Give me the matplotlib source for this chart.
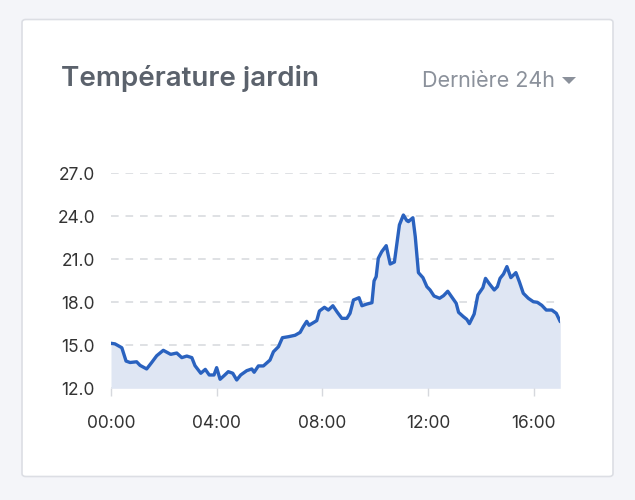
import matplotlib
matplotlib.use("Agg")
import matplotlib.pyplot as plt
from matplotlib.patches import FancyBboxPatch, Polygon
from matplotlib.ticker import FixedLocator, FuncFormatter

plt.rcParams['font.family'] = ['Inter', 'DejaVu Sans']

# Data: hours since 00:00 and temperature (°C)
hours = [0.00, 0.15, 0.41, 0.57, 0.72, 0.97, 1.10, 1.35, 1.54, 1.73, 1.98, 2.26, 2.49,
         2.68, 2.87, 3.06, 3.18, 3.40, 3.57, 3.72, 3.90, 4.00, 4.13, 4.28, 4.44, 4.61,
         4.76, 4.91, 5.14, 5.33, 5.42, 5.58, 5.77, 6.02, 6.15, 6.34, 6.49, 6.72, 6.97,
         7.16, 7.28, 7.41, 7.50, 7.79, 7.89, 8.08, 8.23, 8.40, 8.57, 8.74, 8.93, 9.05,
         9.18, 9.39, 9.50, 9.69, 9.88, 9.96, 10.04, 10.12, 10.25, 10.42, 10.57, 10.73,
         10.92, 11.07, 11.20, 11.26, 11.43, 11.52, 11.64, 11.81, 11.96, 12.08, 12.23,
         12.44, 12.59, 12.75, 12.91, 13.07, 13.16, 13.34, 13.47, 13.57, 13.75, 13.89,
         14.08, 14.18, 14.33, 14.51, 14.63, 14.73, 14.86, 14.99, 15.14, 15.33, 15.46,
         15.61, 15.80, 15.99, 16.14, 16.31, 16.48, 16.69, 16.86, 17.01]
temps = [15.14, 15.10, 14.83, 13.90, 13.80, 13.85, 13.60, 13.35, 13.80, 14.27, 14.65, 14.37,
         14.46, 14.14, 14.25, 14.14, 13.58, 13.05, 13.32, 12.93, 12.93, 13.44, 12.63, 12.88,
         13.16, 13.05, 12.58, 12.93, 13.23, 13.35, 13.12, 13.56, 13.56, 13.97, 14.55, 14.90,
         15.53, 15.60, 15.70, 15.90, 16.30, 16.67, 16.40, 16.72, 17.39, 17.65, 17.46, 17.76,
         17.30, 16.88, 16.88, 17.23, 18.16, 18.32, 17.76, 17.88, 17.97, 19.49, 19.79, 21.07,
         21.53, 21.95, 20.67, 20.81, 23.40, 24.09, 23.70, 23.63, 23.90, 22.58, 20.07, 19.72,
         19.09, 18.86, 18.44, 18.28, 18.46, 18.77, 18.35, 17.93, 17.30, 17.00, 16.81, 16.51,
         17.18, 18.51, 19.02, 19.67, 19.28, 18.86, 19.09, 19.67, 19.97, 20.49, 19.72, 20.07,
         19.44, 18.63, 18.28, 18.04, 18.00, 17.79, 17.46, 17.46, 17.23, 16.65]

y_ticks = [12.0, 15.0, 18.0, 21.0, 24.0, 27.0]
x_ticks = [0, 4, 8, 12, 16]
x_labels = ["00:00", "04:00", "08:00", "12:00", "16:00"]
title = "Température jardin"
period = "Dernière 24h"

W, H = 635, 500
fig = plt.figure(figsize=(W / 100, H / 100), dpi=100)
fig.patch.set_facecolor('#f4f5f9')

# Card
card = FancyBboxPatch((22 / W, 1 - 476.5 / H), (613 - 22) / W, (476.5 - 19.5) / H,
                      boxstyle="round,pad=0,rounding_size=0.006",
                      transform=fig.transFigure, facecolor='white',
                      edgecolor='#dcdee4', linewidth=1.2, zorder=-10)
fig.patches.append(card)

fig.text(61 / W, 1 - 79 / H, title, fontsize=20, fontweight='semibold',
         color='#5b626c', va='center', ha='left')
fig.text(555 / W, 1 - 81 / H, period, fontsize=15.5, color='#8b919b',
         va='center', ha='right')
# dropdown caret
caret = Polygon([(562 / W, 1 - 77 / H), (576 / W, 1 - 77 / H), (569 / W, 1 - 84 / H)],
                closed=True, transform=fig.transFigure, facecolor='#8b919b',
                edgecolor='none', zorder=5)
fig.patches.append(caret)

left, right = 111 / W, 560 / W
bottom, top = 1 - 388.3 / H, 1 - 173.3 / H
ax = fig.add_axes([left, bottom, right - left, top - bottom])
ax.set_facecolor('none')

ax.fill_between(hours, temps, 12.0, color='#dfe6f3', linewidth=0, zorder=1)
ax.plot(hours, temps, color='#2a62bf', linewidth=2.4, solid_joinstyle='round',
        solid_capstyle='round', zorder=3)

ax.set_xlim(0, 17)
ax.set_ylim(12, 27)
ax.yaxis.set_major_locator(FixedLocator(y_ticks))
ax.yaxis.set_major_formatter(FuncFormatter(lambda v, p: f"{v:.1f}"))
ax.set_xticks(x_ticks)
ax.set_xticklabels(x_labels)

for v in y_ticks:
    ax.axhline(v, xmin=0.0, xmax=0.99, color='#d6d8dd', linewidth=1.1,
               linestyle=(0, (5, 4.5)), zorder=0.5)

for s in ax.spines.values():
    s.set_visible(False)

ax.tick_params(axis='y', length=0, pad=11.5, labelsize=12.5, labelcolor='#333333')
ax.tick_params(axis='x', length=6, width=1, color='#d6d8dd', pad=13,
               labelsize=12.5, labelcolor='#333333')
ax.grid(False)

fig.savefig("out.png", dpi=100, facecolor=fig.get_facecolor())
